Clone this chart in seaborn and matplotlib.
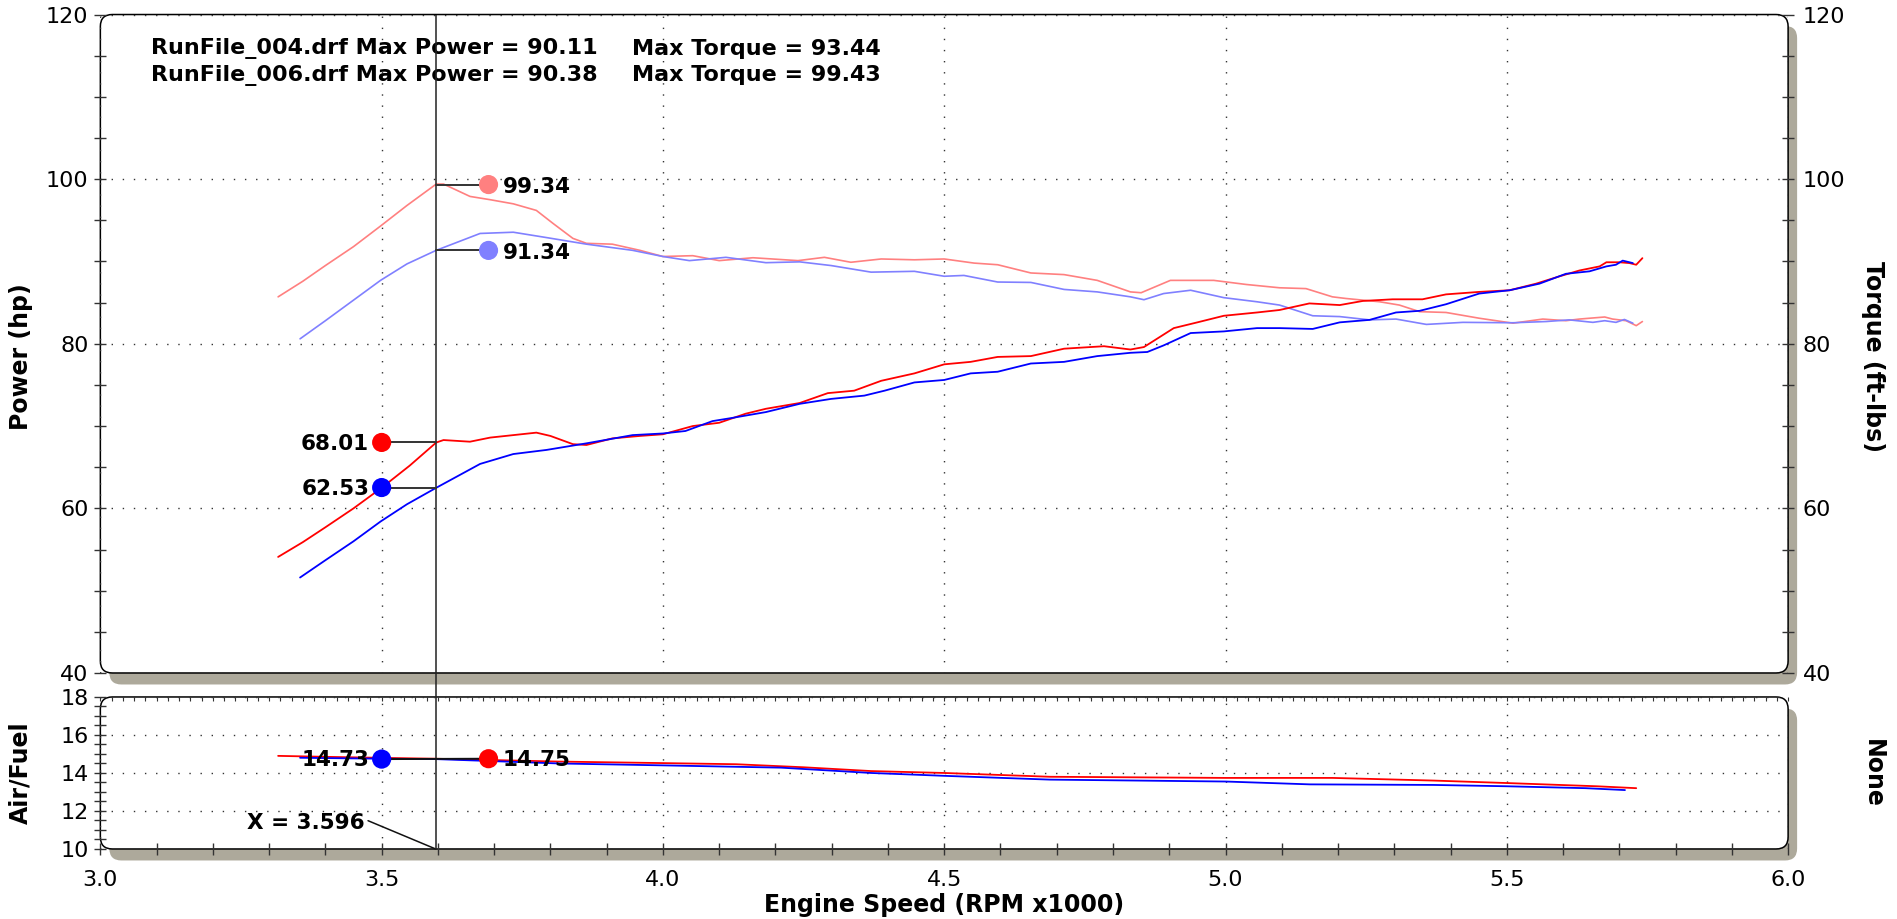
import numpy as np
import pandas as pd
import matplotlib
matplotlib.use("Agg")
import matplotlib.pyplot as plt
from matplotlib.patches import FancyBboxPatch
from matplotlib.ticker import MultipleLocator, FormatStrFormatter
import seaborn as sns

# === 数据 ===
# RunFile_006 (红) 功率
rpm_pw_006 = [3.316, 3.36, 3.40, 3.45, 3.50, 3.55, 3.597, 3.61, 3.657, 3.693, 3.734, 3.775, 3.80, 3.84,
              3.864, 3.91, 3.959, 4.00, 4.053, 4.10, 4.147, 4.183, 4.243, 4.293, 4.34, 4.388, 4.447,
              4.50, 4.547, 4.595, 4.654, 4.713, 4.784, 4.831, 4.855, 4.908, 4.95, 4.997, 5.056, 5.096,
              5.149, 5.203, 5.244, 5.297, 5.35, 5.392, 5.451, 5.505, 5.552, 5.594, 5.629, 5.665, 5.677,
              5.70, 5.718, 5.73, 5.741]
hp_006 = [54.1, 55.9, 57.7, 60.0, 62.5, 65.2, 68.0, 68.3, 68.1, 68.6, 68.9, 69.2, 68.8, 67.8,
          67.7, 68.5, 68.8, 69.0, 70.0, 70.4, 71.5, 72.1, 72.8, 74.0, 74.3, 75.5, 76.4,
          77.5, 77.8, 78.4, 78.5, 79.4, 79.7, 79.3, 79.6, 81.9, 82.6, 83.4, 83.8, 84.1,
          84.9, 84.7, 85.2, 85.4, 85.4, 86.0, 86.3, 86.5, 87.3, 88.2, 88.9, 89.4, 89.9,
          89.9, 89.8, 89.6, 90.4]

# RunFile_004 (蓝) 功率
rpm_pw_004 = [3.355, 3.40, 3.45, 3.498, 3.545, 3.597, 3.675, 3.734, 3.793, 3.864, 3.946, 4.00, 4.04,
              4.088, 4.124, 4.183, 4.243, 4.299, 4.358, 4.394, 4.447, 4.50, 4.547, 4.595, 4.654,
              4.713, 4.772, 4.831, 4.861, 4.89, 4.938, 4.997, 5.056, 5.096, 5.155, 5.203, 5.256,
              5.303, 5.345, 5.392, 5.451, 5.505, 5.558, 5.605, 5.647, 5.677, 5.694, 5.706, 5.724]
hp_004 = [51.6, 53.7, 56.0, 58.4, 60.5, 62.5, 65.4, 66.6, 67.1, 67.9, 68.9, 69.1, 69.4,
          70.6, 71.0, 71.7, 72.7, 73.3, 73.7, 74.3, 75.3, 75.6, 76.4, 76.6, 77.6,
          77.8, 78.5, 78.9, 79.0, 79.8, 81.3, 81.5, 81.9, 81.9, 81.8, 82.6, 82.9,
          83.8, 84.0, 84.8, 86.1, 86.5, 87.3, 88.5, 88.8, 89.4, 89.6, 90.1, 89.8]

# RunFile_006 (浅红) 扭矩
rpm_tq_006 = [3.316, 3.36, 3.40, 3.45, 3.498, 3.545, 3.597, 3.61, 3.657, 3.693, 3.734, 3.775, 3.805,
              3.84, 3.864, 3.91, 3.959, 4.00, 4.053, 4.10, 4.16, 4.24, 4.287, 4.334, 4.388, 4.447,
              4.50, 4.553, 4.595, 4.654, 4.713, 4.772, 4.831, 4.85, 4.902, 4.979, 5.037, 5.096,
              5.143, 5.19, 5.214, 5.274, 5.309, 5.345, 5.392, 5.451, 5.511, 5.564, 5.605, 5.629,
              5.674, 5.688, 5.712, 5.73, 5.741]
tq_006 = [85.7, 87.6, 89.5, 91.8, 94.3, 96.8, 99.4, 99.4, 97.9, 97.5, 97.0, 96.2, 94.6,
          92.8, 92.2, 92.1, 91.35, 90.6, 90.7, 90.1, 90.45, 90.1, 90.5, 89.9, 90.3, 90.2,
          90.3, 89.8, 89.6, 88.6, 88.4, 87.7, 86.3, 86.2, 87.7, 87.7, 87.2, 86.8,
          86.7, 85.7, 85.5, 85.1, 84.7, 83.9, 83.8, 83.1, 82.5, 83.0, 82.8, 83.0,
          83.25, 83.0, 82.8, 82.2, 82.7]

# RunFile_004 (浅蓝) 扭矩
rpm_tq_004 = [3.355, 3.40, 3.45, 3.498, 3.545, 3.597, 3.675, 3.734, 3.793, 3.864, 3.946, 4.00, 4.047,
              4.112, 4.183, 4.243, 4.299, 4.37, 4.447, 4.50, 4.535, 4.595, 4.654, 4.713, 4.772,
              4.831, 4.855, 4.89, 4.938, 4.997, 5.056, 5.096, 5.155, 5.203, 5.256, 5.303, 5.357,
              5.422, 5.511, 5.57, 5.611, 5.653, 5.674, 5.694, 5.709, 5.724]
tq_004 = [80.6, 82.8, 85.3, 87.7, 89.7, 91.35, 93.4, 93.55, 92.9, 92.1, 91.35, 90.6, 90.1,
          90.5, 89.85, 89.95, 89.5, 88.7, 88.8, 88.2, 88.3, 87.5, 87.45, 86.6, 86.3,
          85.7, 85.35, 86.1, 86.5, 85.6, 85.1, 84.7, 83.4, 83.3, 82.9, 83.0, 82.35,
          82.6, 82.55, 82.7, 82.9, 82.6, 82.8, 82.6, 82.95, 82.5]

# 空燃比
rpm_afr_006 = [3.316, 3.40, 3.494, 3.596, 3.815, 4.00, 4.13, 4.25, 4.37, 4.50, 4.688, 5.00, 5.19,
               5.37, 5.50, 5.66, 5.73]
afr_006 = [14.9, 14.85, 14.8, 14.75, 14.6, 14.52, 14.46, 14.3, 14.1, 14.0, 13.8, 13.74, 13.74,
           13.6, 13.47, 13.3, 13.2]
rpm_afr_004 = [3.355, 3.50, 3.596, 3.815, 4.00, 4.21, 4.37, 4.50, 4.688, 5.00, 5.15, 5.37, 5.50,
               5.64, 5.71]
afr_004 = [14.8, 14.75, 14.73, 14.5, 14.4, 14.28, 14.0, 13.85, 13.65, 13.55, 13.4, 13.37, 13.3,
           13.2, 13.1]

# 游标读数
cursor_x = 3.596
left_tag_x = 3.50
right_tag_x = 3.69
tq_cursor = {"006": 99.34, "004": 91.34}
hp_cursor = {"006": 68.01, "004": 62.53}
afr_cursor = {"006": 14.75, "004": 14.73}

header_lines = [("RunFile_004.drf Max Power = 90.11", "Max Torque = 93.44"),
                ("RunFile_006.drf Max Power = 90.38", "Max Torque = 99.43")]

RED, BLUE = "#FF0000", "#0000FF"
LRED, LBLUE = "#FF8080", "#8080FF"
SHADOW = "#ADA99B"
GRID = "#333333"
TICK = "#333333"

sns.set_theme(style="white")
plt.rcParams['font.family'] = ['DejaVu Sans']
plt.rcParams.update({"text.color": "black", "axes.labelcolor": "black",
                     "xtick.color": "black", "ytick.color": "black"})

TICK_FS = 16
LABEL_FS = 17
VAL_FS = 15.5
DOT = 190

fig = plt.figure(figsize=(18.97, 9.19), dpi=100)
W, H = 18.97, 9.19
ax = fig.add_axes([0.0529, 0.2677, 0.8897, 0.7165])
ax_afr = fig.add_axes([0.0529, 0.0762, 0.8897, 0.1654], sharex=ax)


def panel(a):
    pos = a.get_position()
    x0, y0, w, h = pos.x0 * W, pos.y0 * H, pos.width * W, pos.height * H
    style = "round,pad=0,rounding_size=0.12"
    sh = FancyBboxPatch((x0 + 0.09, y0 - 0.115), w, h, boxstyle=style,
                        transform=fig.dpi_scale_trans, fc=SHADOW, ec="none", zorder=-3)
    fc = FancyBboxPatch((x0, y0), w, h, boxstyle=style,
                        transform=fig.dpi_scale_trans, fc="white", ec="black", lw=1.1, zorder=-2)
    fig.patches.extend([sh, fc])
    a.patch.set_visible(False)
    for s in a.spines.values():
        s.set_visible(False)


def bare(a):
    a.patch.set_visible(False)
    for s in a.spines.values():
        s.set_visible(False)


panel(ax)
panel(ax_afr)

# === 主图: 功率 / 扭矩 ===
line_kw = dict(sort=False, estimator=None, solid_joinstyle="round", solid_capstyle="round")
sns.lineplot(x=rpm_tq_006, y=tq_006, ax=ax, color=LRED, lw=1.2, **line_kw)
sns.lineplot(x=rpm_tq_004, y=tq_004, ax=ax, color=LBLUE, lw=1.2, **line_kw)
sns.lineplot(x=rpm_pw_006, y=hp_006, ax=ax, color=RED, lw=1.3, **line_kw)
sns.lineplot(x=rpm_pw_004, y=hp_004, ax=ax, color=BLUE, lw=1.3, **line_kw)

ax.set_xlim(3.0, 6.0)
ax.set_ylim(40, 120)
ax.xaxis.set_major_locator(MultipleLocator(0.5))
ax.yaxis.set_major_locator(MultipleLocator(20))
ax.yaxis.set_minor_locator(MultipleLocator(5))
ax.grid(True, which="major", color=GRID, linestyle=(0, (1, 7)), lw=1.0)
ax.tick_params(axis="x", which="both", length=0, labelbottom=False)
ax.tick_params(axis="y", which="both", direction="inout", length=9, width=1, color=TICK,
               left=True, labelsize=TICK_FS, labelcolor="black", pad=4)
ax.set_ylabel("Power (hp)", fontsize=LABEL_FS, fontweight="bold")
ax.yaxis.set_label_coords(-0.040, 0.48)
ax.set_xlabel("")

ax_r = ax.twinx()
ax_r.set_ylim(40, 120)
ax_r.yaxis.set_major_locator(MultipleLocator(20))
ax_r.yaxis.set_minor_locator(MultipleLocator(5))
ax_r.tick_params(axis="y", which="both", direction="inout", length=9, width=1, color=TICK,
                 right=True, labelsize=TICK_FS, labelcolor="black", pad=6)
bare(ax_r)
ax_r.set_ylabel("Torque (ft-lbs)", fontsize=LABEL_FS, fontweight="bold", rotation=270, va="bottom")
ax_r.yaxis.set_label_coords(1.043, 0.48)

# 游标线
ax.axvline(cursor_x, color="#222222", lw=1.1, zorder=5)
ax_afr.axvline(cursor_x, ymin=0, ymax=1.16, color="#222222", lw=1.1, zorder=5, clip_on=False)

# 游标读数标记
for key, col in [("006", LRED), ("004", LBLUE)]:
    v = tq_cursor[key]
    ax.plot([cursor_x, right_tag_x], [v, v], color="#333333", lw=1.4, zorder=6)
    sns.scatterplot(x=[right_tag_x], y=[v], ax=ax, color=col, s=DOT, edgecolor="none", zorder=7)
    ax.annotate(f"{v:.2f}", (right_tag_x, v), xytext=(10, -2), textcoords="offset points",
                ha="left", va="center", fontsize=VAL_FS, fontweight="bold", zorder=8)
for key, col in [("006", RED), ("004", BLUE)]:
    v = hp_cursor[key]
    ax.plot([left_tag_x, cursor_x], [v, v], color="#333333", lw=1.4, zorder=6)
    sns.scatterplot(x=[left_tag_x], y=[v], ax=ax, color=col, s=DOT, edgecolor="none", zorder=7)
    ax.annotate(f"{v:.2f}", (left_tag_x, v), xytext=(-9, -1), textcoords="offset points",
                ha="right", va="center", fontsize=VAL_FS, fontweight="bold", zorder=8)

for i, (a, b) in enumerate(header_lines):
    ax.text(0.030, 0.948 - i * 0.040, a, transform=ax.transAxes, fontsize=16, fontweight="bold",
            va="center", ha="left")
    ax.text(0.315, 0.948 - i * 0.040, b, transform=ax.transAxes, fontsize=16, fontweight="bold",
            va="center", ha="left")

# === 下图: 空燃比 ===
sns.lineplot(x=rpm_afr_006, y=afr_006, ax=ax_afr, color=RED, lw=1.3, **line_kw)
sns.lineplot(x=rpm_afr_004, y=afr_004, ax=ax_afr, color=BLUE, lw=1.3, **line_kw)
ax_afr.set_ylim(10, 18)
ax_afr.set_xlim(3.0, 6.0)
ax_afr.yaxis.set_major_locator(MultipleLocator(2))
ax_afr.yaxis.set_minor_locator(MultipleLocator(0.5))
ax_afr.xaxis.set_major_locator(MultipleLocator(0.5))
ax_afr.xaxis.set_minor_locator(MultipleLocator(0.1))
ax_afr.xaxis.set_major_formatter(FormatStrFormatter("%.1f"))
ax_afr.grid(True, which="major", color=GRID, linestyle=(0, (1, 7)), lw=1.0)
ax_afr.tick_params(axis="both", which="both", direction="inout", length=9, width=1,
                   color=TICK, left=True, bottom=True, labelsize=TICK_FS, labelcolor="black")
ax_afr.tick_params(axis="x", which="both", pad=11)
ax_afr.tick_params(axis="y", which="both", pad=4)
ax_afr.set_ylabel("Air/Fuel", fontsize=LABEL_FS, fontweight="bold")
ax_afr.yaxis.set_label_coords(-0.040, 0.5)
ax_afr.set_xlabel("Engine Speed (RPM x1000)", fontsize=LABEL_FS, fontweight="bold")
ax_afr.xaxis.set_label_coords(0.5, -0.29)

# 下图上边缘的细刻度
ax_top = ax_afr.twiny()
ax_top.set_xlim(3.0, 6.0)
ax_top.xaxis.set_major_locator(MultipleLocator(0.02))
ax_top.tick_params(axis="x", which="both", direction="in", length=3, width=0.8, color=TICK,
                   top=True, bottom=False, labeltop=False, labelbottom=False)
bare(ax_top)

ax_afr_r = ax_afr.twinx()
ax_afr_r.set_yticks([])
bare(ax_afr_r)
ax_afr_r.set_ylabel("None", fontsize=LABEL_FS, fontweight="bold", rotation=270, va="bottom")
ax_afr_r.yaxis.set_label_coords(1.043, 0.5)

v4, v6 = afr_cursor["004"], afr_cursor["006"]
ax_afr.plot([left_tag_x, right_tag_x], [v4, v6], color="#111111", lw=1.4, zorder=6)
sns.scatterplot(x=[left_tag_x], y=[v4], ax=ax_afr, color=BLUE, s=DOT, edgecolor="none", zorder=7)
sns.scatterplot(x=[right_tag_x], y=[v6], ax=ax_afr, color=RED, s=DOT, edgecolor="none", zorder=7)
ax_afr.annotate(f"{v4:.2f}", (left_tag_x, v4), xytext=(-9, -1), textcoords="offset points",
                ha="right", va="center", fontsize=VAL_FS, fontweight="bold", zorder=8)
ax_afr.annotate(f"{v6:.2f}", (right_tag_x, v6), xytext=(10, -1), textcoords="offset points",
                ha="left", va="center", fontsize=VAL_FS, fontweight="bold", zorder=8)
ax_afr.annotate(f"X = {cursor_x:.3f}", xy=(cursor_x, 10), xytext=(3.47, 11.35),
                ha="right", va="center", fontsize=VAL_FS, fontweight="bold",
                arrowprops=dict(arrowstyle="-", color="#111111", lw=1.1, shrinkA=0, shrinkB=0,
                                relpos=(1.0, 0.7)))

fig.savefig("out.png", dpi=100)
